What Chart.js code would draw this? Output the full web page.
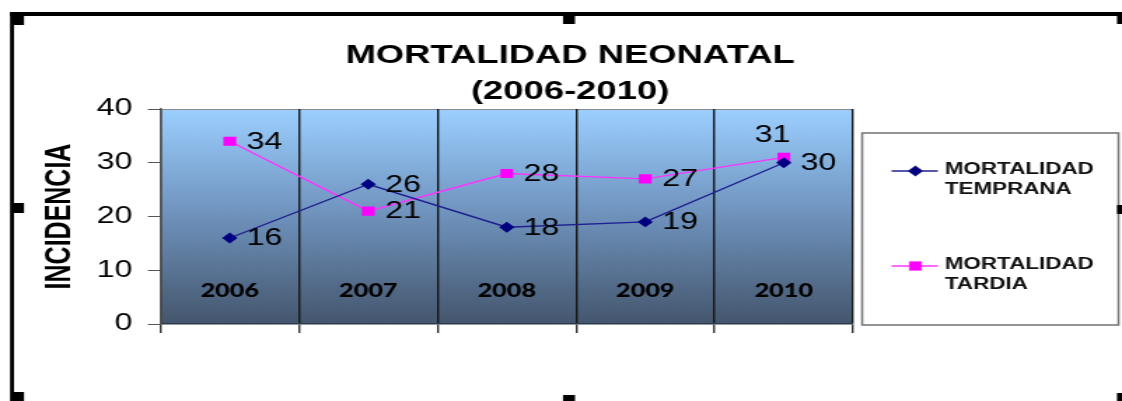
<!DOCTYPE html>
<html>
<head>
<meta charset="utf-8">
<script src="https://cdn.jsdelivr.net/npm/chart.js@4.4.0/dist/chart.umd.min.js"></script>
<style>
  html, body { margin: 0; padding: 0; background: #fff; overflow: hidden; }
  #wrap { width: 1122px; height: 401px; }
  /* the source picture is a horizontally stretched chart, so the canvas is too */
  #chart { display: block; transform-origin: 0 0; }
</style>
</head>
<body>
<div id="wrap"><canvas id="chart" width="801" height="401"></canvas></div>
<script>
const chartTitle = ["MORTALIDAD NEONATAL", "(2006-2010)"];
const years = ["2006", "2007", "2008", "2009", "2010"];
const temprana = [16, 26, 18, 19, 30];
const tardia = [34, 21, 28, 27, 31];
const yMin = 0;
const yMax = 40;
const yStep = 10;

const SX = 1122 / 801;
document.getElementById("chart").style.transform = "scaleX(" + SX + ")";

// gradient behind the plot
const plotBackground = {
  id: "plotBackground",
  beforeDraw(chart) {
    const { ctx, chartArea: a } = chart;
    const g = ctx.createLinearGradient(0, a.top, 0, a.bottom);
    g.addColorStop(0, "#9ccfff");
    g.addColorStop(0.45, "#7297c2");
    g.addColorStop(1, "#44566d");
    ctx.save();
    ctx.fillStyle = g;
    ctx.fillRect(a.left, a.top, a.right - a.left, a.bottom - a.top);
    ctx.strokeStyle = "#8a8a8a";
    ctx.lineWidth = 1;
    ctx.beginPath();
    ctx.moveTo(a.left, a.top + 0.5);
    ctx.lineTo(a.right - 0.5, a.top + 0.5);
    ctx.lineTo(a.right - 0.5, a.bottom);
    ctx.stroke();
    ctx.restore();
  }
};

// title is centred on the whole picture, not on the plot
const titlePlugin = {
  id: "titlePlugin",
  afterDraw(chart) {
    const ctx = chart.ctx;
    ctx.save();
    ctx.fillStyle = "#000";
    ctx.font = "bold 26px 'Liberation Sans'";
    ctx.textAlign = "center";
    ctx.textBaseline = "middle";
    chartTitle.forEach((line, i) => ctx.fillText(line, 407, 56 + i * 36));
    ctx.restore();
  }
};

// year names sit inside the plot, value labels next to the points
const labelsPlugin = {
  id: "labelsPlugin",
  afterDatasetsDraw(chart) {
    const { ctx, chartArea: a, scales } = chart;
    ctx.save();
    ctx.fillStyle = "#000";
    ctx.font = "900 18px Lato";
    ctx.textAlign = "center";
    ctx.textBaseline = "middle";
    chart.data.labels.forEach((lab, i) => {
      ctx.fillText(lab, scales.x.getPixelForValue(i), a.bottom - 33);
    });

    ctx.font = "23px 'Liberation Sans'";
    chart.data.datasets.forEach((ds, di) => {
      const meta = chart.getDatasetMeta(di);
      meta.data.forEach((pt, i) => {
        if ((ds.labelAbove || []).includes(i)) {
          ctx.textAlign = "center";
          ctx.fillText(ds.data[i], pt.x - 8, pt.y - 22);
        } else {
          ctx.textAlign = "left";
          ctx.fillText(ds.data[i], pt.x + 12, pt.y + 1);
        }
      });
    });
    ctx.restore();
  }
};

// boxed legend on the right, two-line names
const sideLegend = {
  id: "sideLegend",
  afterDraw(chart) {
    const ctx = chart.ctx;
    const left = 615.5;
    const top = 133;
    const w = 183;
    const h = 192;
    ctx.save();
    ctx.fillStyle = "#fff";
    ctx.fillRect(left, top, w, h);
    ctx.strokeStyle = "#7a7a7a";
    ctx.lineWidth = 1.6;
    ctx.strokeRect(left, top, w, h);

    const rows = [171, 266];
    ctx.font = "bold 16px 'Liberation Sans'";
    ctx.textBaseline = "middle";
    ctx.textAlign = "left";
    chart.data.datasets.forEach((ds, i) => {
      const y = rows[i];
      ctx.strokeStyle = ds.borderColor;
      ctx.lineWidth = 1.5;
      ctx.beginPath();
      ctx.moveTo(left + 21, y);
      ctx.lineTo(left + 54, y);
      ctx.stroke();
      Chart.helpers.drawPoint(ctx, {
        pointStyle: ds.pointStyle,
        radius: ds.pointRadius,
        borderWidth: 1
      }, left + 38, y);
      ctx.fillStyle = ds.pointBackgroundColor;
      ctx.fill();
      ctx.fillStyle = "#111";
      ds.label.forEach((line, k) => {
        ctx.fillText(line, left + 59, y - 1 + k * 20);
      });
    });
    ctx.restore();
  }
};

// the selection frame with its handles, in page pixels
const frame = {
  id: "frame",
  afterDraw(chart) {
    const ctx = chart.ctx;
    const boxes = [
      [10, 12, 1112, 4], [10, 12, 4, 389],
      [14, 16, 10, 9], [563, 16, 12, 8], [1117, 16, 5, 8],
      [14, 203, 10, 10], [1117, 205, 5, 9],
      [14, 392, 10, 9], [563, 395, 12, 6], [1117, 393, 5, 8]
    ];
    ctx.save();
    ctx.fillStyle = "#000";
    boxes.forEach(b => ctx.fillRect(b[0] / SX, b[1], b[2] / SX, b[3]));
    ctx.restore();
  }
};

new Chart(document.getElementById("chart"), {
  type: "line",
  data: {
    labels: years,
    datasets: [
      {
        label: ["MORTALIDAD", "TEMPRANA"],
        data: temprana,
        borderColor: "#1f1f8f",
        backgroundColor: "#000080",
        pointBackgroundColor: "#000080",
        pointBorderColor: "#000080",
        pointStyle: "rectRot",
        pointRadius: 4.5,
        borderWidth: 1.4,
        tension: 0
      },
      {
        label: ["MORTALIDAD", "TARDIA"],
        data: tardia,
        borderColor: "#ff33ff",
        backgroundColor: "#ff00ff",
        pointBackgroundColor: "#ff00ff",
        pointBorderColor: "#ff00ff",
        pointStyle: "rect",
        pointRadius: 5.5,
        borderWidth: 1.4,
        tension: 0,
        labelAbove: [4]
      }
    ]
  },
  options: {
    responsive: false,
    animation: false,
    layout: { padding: { left: 16, right: 192, top: 109, bottom: 68 } },
    plugins: {
      legend: { display: false },
      tooltip: { enabled: false },
      title: { display: false }
    },
    scales: {
      x: {
        offset: true,
        ticks: { display: false },
        grid: {
          offset: true,
          color: "#161616",
          lineWidth: 1.4,
          tickLength: 9,
          tickColor: "#333"
        },
        border: { color: "#2b3a4c", width: 1.5 }
      },
      y: {
        min: yMin,
        max: yMax,
        ticks: {
          stepSize: yStep,
          color: "#000",
          padding: 11,
          font: { family: "'Liberation Sans'", size: 23 }
        },
        grid: {
          drawOnChartArea: false,
          tickLength: 9,
          tickColor: "#555"
        },
        border: { color: "#555", width: 1.5 },
        title: {
          display: true,
          text: "INCIDENCIA",
          color: "#000",
          font: { family: "'Liberation Sans'", size: 25, weight: "bold", lineHeight: 1.2 },
          padding: { top: 12, bottom: 0 }
        }
      }
    }
  },
  plugins: [plotBackground, labelsPlugin, titlePlugin, sideLegend, frame]
});
</script>
</body>
</html>
